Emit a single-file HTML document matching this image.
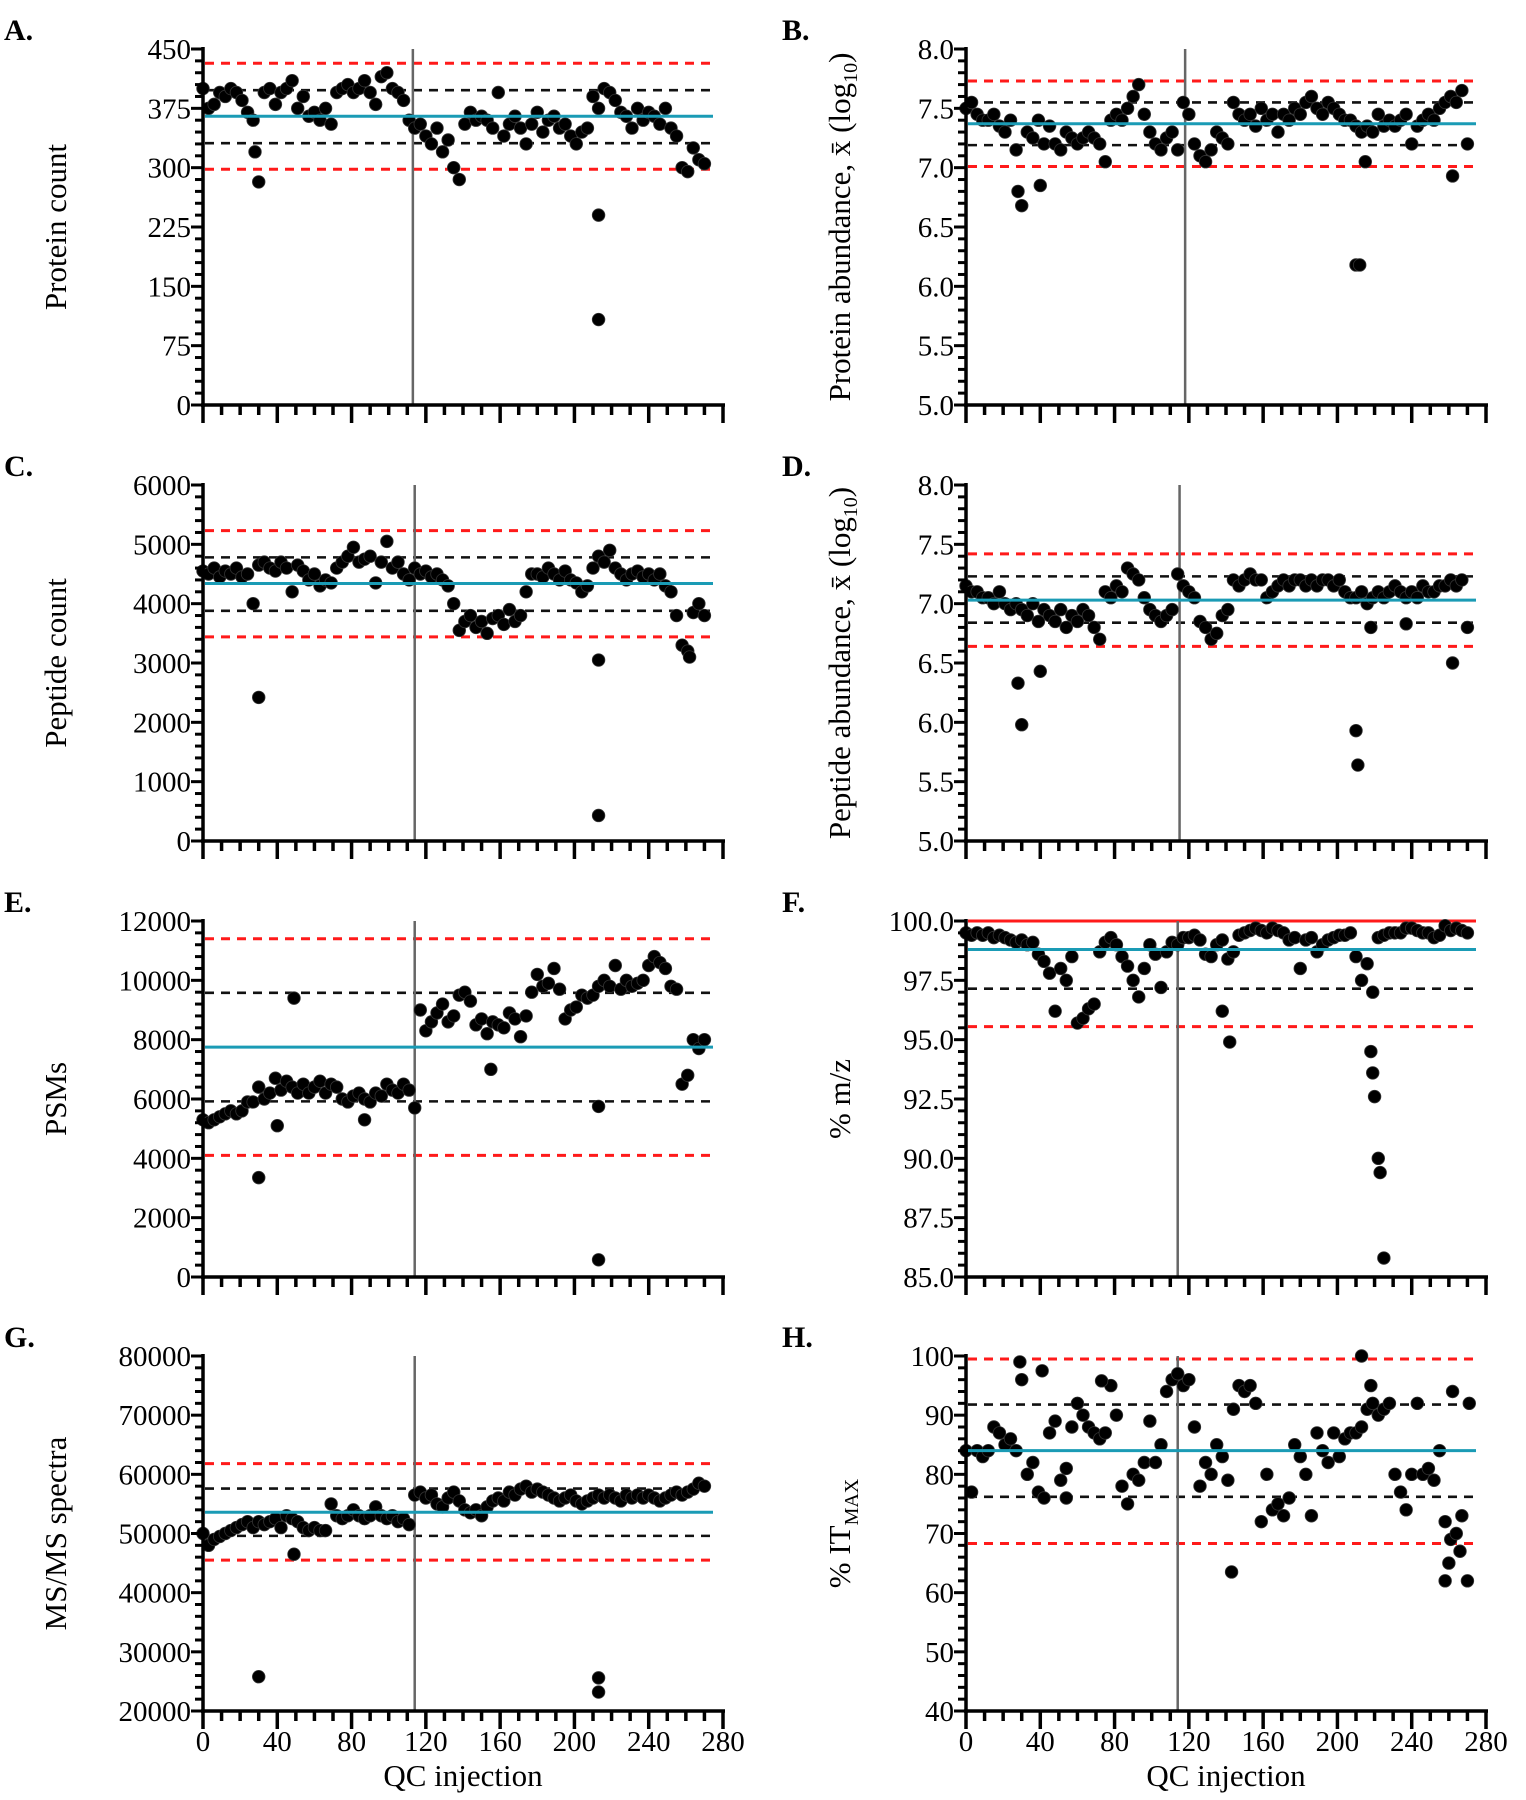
<!DOCTYPE html>
<html><head><meta charset="utf-8"><style>
html,body{margin:0;padding:0;background:#fff;}
svg{display:block;font-family:"Liberation Serif","DejaVu Serif",serif;}
</style></head><body>
<svg id="fig" width="1526" height="1800" viewBox="0 0 1526 1800" xmlns="http://www.w3.org/2000/svg"></svg>
<script>
// ---- data (injection index = position*3) ----
const dataA = [400,375,380,395,390,400,395,385,370,360, 282,395,400,380,395,400,410,375,390,365, 370,360,375,355,395,400,405,395,400,410, 395,380,415,420,400,395,385,360,350,355, 340,330,350,320,335,300,285,355,370,360, 365,360,350,395,340,355,365,350,330,355, 370,345,360,365,350,355,340,330,345,350, 390,375,400,395,385,370,365,350,375,360, 370,365,355,375,350,340,300,295,325,310, 305];
const outA = [[28,320],[213,240],[213,108]];
const dataB = [7.5,7.55,7.45,7.4,7.4,7.45,7.35,7.3,7.4,7.15, 6.68,7.3,7.25,7.4,7.2,7.35,7.2,7.15,7.3,7.25, 7.2,7.25,7.3,7.25,7.2,7.05,7.4,7.45,7.4,7.5, 7.6,7.7,7.45,7.3,7.2,7.15,7.25,7.3,7.15,7.55, 7.45,7.2,7.1,7.05,7.15,7.3,7.25,7.2,7.55,7.45, 7.4,7.45,7.35,7.5,7.4,7.45,7.3,7.45,7.4,7.5, 7.45,7.55,7.6,7.5,7.45,7.55,7.5,7.45,7.4,7.4, 7.35,7.3,7.35,7.3,7.45,7.35,7.4,7.35,7.4,7.45, 7.2,7.35,7.4,7.45,7.4,7.5,7.55,7.6,7.55,7.65, 7.2];
const outB = [[28,6.8],[40,6.85],[210,6.18],[212,6.18],[215,7.05],[262,6.93]];
const dataC = [4550,4500,4600,4450,4550,4500,4600,4450,4500,4000, 4650,4700,4600,4550,4700,4600,4200,4650,4550,4400, 4500,4300,4400,4350,4600,4700,4800,4950,4700,4750, 4800,4350,4700,5050,4600,4700,4500,4400,4600,4500, 4550,4450,4500,4400,4300,4000,3550,3700,3800,3600, 3700,3500,3750,3800,3650,3900,3700,3800,4200,4500, 4500,4450,4600,4500,4400,4550,4400,4350,4200,4300, 4600,4800,4700,4900,4600,4500,4400,4500,4550,4450, 4500,4400,4500,4300,4200,3800,3300,3200,3850,4000, 3800];
const outC = [[30,2420],[213,3050],[213,430],[262,3100]];
const dataD = [7.15,7.1,7.1,7.05,7.05,7.0,7.1,7.0,6.95,7.0, 6.95,6.9,7.0,6.85,6.95,6.9,6.85,6.95,6.8,6.9, 6.85,6.95,6.9,6.8,6.7,7.1,7.05,7.15,7.1,7.3, 7.25,7.2,7.05,6.95,6.9,6.85,6.9,6.95,7.25,7.15, 7.1,7.05,6.85,6.8,6.7,6.75,6.9,6.95,7.2,7.15, 7.2,7.25,7.2,7.2,7.05,7.1,7.15,7.2,7.15,7.2, 7.2,7.15,7.2,7.15,7.2,7.2,7.15,7.2,7.1,7.05, 7.05,7.1,7.0,7.05,7.1,7.05,7.1,7.15,7.1,7.05, 7.1,7.05,7.15,7.1,7.1,7.15,7.15,7.2,7.15,7.2, 6.8];
const outD = [[28,6.33],[30,5.98],[40,6.43],[210,5.93],[211,5.64],[218,6.8],[237,6.83],[262,6.5]];
const dataE = [5300,5200,5300,5400,5500,5600,5500,5600,5900,5900, 6400,6000,6200,6700,6300,6600,6400,6200,6500,6200, 6400,6600,6200,6500,6400,6000,5900,6100,6200,6000, 5900,6200,6100,6500,6300,6200,6500,6300,5700,9000, 8300,8600,8900,9200,8600,8800,9500,9600,9300,8500, 8700,8200,8600,8500,8400,8900,8700,8100,8800,9600, 10200,9800,9900,10400,9700,8700,9000,9100,9500,9400, 9500,9800,10000,9800,10500,9700,10000,9800,9900,10000, 10500,10800,10600,10400,9800,9700,6500,6800,8000,7700, 8000];
const outE = [[30,3350],[49,9400],[40,5100],[87,5300],[155,7000],[213,5750],[213,580]];
const dataF = [99.5,99.4,99.5,99.4,99.5,99.3,99.4,99.3,99.2,99.1, 99.2,99.0,99.1,98.6,98.3,97.8,96.2,98.0,97.5,98.5, 95.7,95.9,96.3,96.5,98.7,99.1,99.3,99.0,98.5,98.1, 97.5,96.8,98.0,99.0,98.6,97.2,98.7,99.1,99.0,99.3, 99.3,99.4,99.2,98.6,98.5,99.0,99.2,98.4,98.7,99.4, 99.5,99.6,99.7,99.6,99.5,99.7,99.6,99.5,99.2,99.3, 98.0,99.2,99.3,98.7,99.0,99.2,99.3,99.4,99.4,99.5, 98.5,97.5,98.2,97.0,99.3,99.4,99.5,99.5,99.5,99.7, 99.7,99.6,99.5,99.5,99.3,99.4,99.8,99.6,99.7,99.6, 99.5];
const outF = [[138,96.2],[142,94.9],[218,94.5],[219,93.6],[220,92.6],[222,90.0],[223,89.4],[225,85.8]];
const dataG = [50000,48000,49000,49500,50000,50500,51000,51500,52000,51000, 52000,51500,52000,52500,51000,53000,52500,52000,51000,50500, 51000,50500,50500,55000,53000,52500,53000,54000,53000,52500, 53000,54500,53000,52500,53000,52000,52500,51500,56500,57000, 56000,56500,55000,54500,56000,57000,55500,54000,53500,54000, 53000,54500,55500,56000,55500,57000,56500,57500,58000,57000, 57500,57000,56500,56000,55500,56000,56500,55500,55000,55500, 56000,56500,56000,56500,56000,55500,56500,56000,56500,56000, 56500,56000,55500,56000,56500,57000,56500,57000,57500,58500, 58000];
const outG = [[30,25800],[49,46500],[213,25600],[213,23200]];
const dataH = [84,77,84,83,84,88,87,85,86,84, 96,80,82,77,76,87,89,79,76,88, 92,90,88,87,86,87,95,90,78,75, 80,79,82,89,82,85,94,96,97,95, 96,88,78,82,80,85,83,79,91,95, 94,95,92,72,80,74,75,73,76,85, 83,80,73,87,84,82,87,83,86,87, 87,88,91,92,90,91,92,80,77,74, 80,92,80,81,79,84,72,69,70,73, 62];
const outH = [[29,99],[41,97.5],[54,81],[73,95.8],[143,63.5],[213,100],[218,95],[258,62],[260,65],[262,94],[266,67],[271,92]];
const xTicks = [0,40,80,120,160,200,240,280];
const ticksA = [0,75,150,225,300,375,450];
const ticksB = [5.0,5.5,6.0,6.5,7.0,7.5,8.0];
const ticksC = [0,1000,2000,3000,4000,5000,6000];
const ticksE = [0,2000,4000,6000,8000,10000,12000];
const ticksF = [85.0,87.5,90.0,92.5,95.0,97.5,100.0];
const ticksG = [20000,30000,40000,50000,60000,70000,80000];
const ticksH = [40,50,60,70,80,90,100];
// reference lines: [mean, blackLo, blackHi, redLo, redHi]
const refA = [365,331,398,298,432];
const refB = [7.37,7.19,7.55,7.01,7.73];
const refC = [4340,3880,4780,3440,5230];
const refD = [7.03,6.84,7.23,6.64,7.42];
const refE = [7750,5920,9580,4100,11400];
const refF = [98.8,97.15,null,95.55,100];
const refG = [53600,49600,57600,45500,61800];
const refH = [84,76.2,91.8,68.3,99.5];
const stepX = 3;

const NS="http://www.w3.org/2000/svg";
const svg=document.getElementById('fig');
function mk(tag,attrs,parent){const e=document.createElementNS(NS,tag);for(const k in attrs)e.setAttribute(k,attrs[k]);(parent||svg).appendChild(e);return e;}

const panels=[
 {id:'a',L:'A.',lx:4,ly:40,x0:203,y0:49,y1:405,t:ticksA,d:dataA,o:outA,r:refA,vx:113,fmt:v=>String(v),lab:['Protein count']},
 {id:'b',L:'B.',lx:782,ly:40,x0:966,y0:49,y1:405,t:ticksB,d:dataB,o:outB,r:refB,vx:118,fmt:v=>v.toFixed(1),lab:'abund-protein'},
 {id:'c',L:'C.',lx:4,ly:476,x0:203,y0:485,y1:841,t:ticksC,d:dataC,o:outC,r:refC,vx:114,fmt:v=>String(v),lab:['Peptide count']},
 {id:'d',L:'D.',lx:782,ly:476,x0:966,y0:485,y1:841,t:ticksB,d:dataD,o:outD,r:refD,vx:115,fmt:v=>v.toFixed(1),lab:'abund-peptide'},
 {id:'e',L:'E.',lx:4,ly:912,x0:203,y0:921,y1:1277,t:ticksE,d:dataE,o:outE,r:refE,vx:114,fmt:v=>String(v),lab:['PSMs']},
 {id:'f',L:'F.',lx:782,ly:912,x0:966,y0:921,y1:1277,t:ticksF,d:dataF,o:outF,r:refF,vx:114,fmt:v=>v.toFixed(1),lab:['% m/z']},
 {id:'g',L:'G.',lx:4,ly:1347,x0:203,y0:1356,y1:1711,t:ticksG,d:dataG,o:outG,r:refG,vx:114,fmt:v=>String(v),lab:['MS/MS spectra'],xl:true},
 {id:'h',L:'H.',lx:782,ly:1347,x0:966,y0:1356,y1:1711,t:ticksH,d:dataH,o:outH,r:refH,vx:114,fmt:v=>String(v),lab:'itmax',xl:true}
];

panels.forEach(p=>{
 const g=mk('g',{});
 
 
 const W=520, lo=p.t[0], hi=p.t[p.t.length-1];
 const sx=v=>p.x0+v/280*W;
 const sy=v=>p.y1-(v-lo)/(hi-lo)*(p.y1-p.y0);
 const xEnd=p.x0+W;
 const L=mk('text',{x:p.lx,y:p.ly,'font-size':30,'font-weight':'bold'},g);L.textContent=p.L;
 
 
 const r=p.r;
 const drawH=(v,col,dash,w,nm)=>{if(v==null)return;const l=mk('line',{x1:p.x0+2,x2:xEnd-10,y1:sy(v),y2:sy(v),stroke:col,'stroke-width':w,'stroke-dasharray':dash||'none'},g);
  
  };
 drawH(r[3],'#ff1a1a','9,7',3,'lower-control-limit');
 if(p.id==='f'){drawH(r[4],'#ff1a1a',null,3,'upper-control-limit');} else drawH(r[4],'#ff1a1a','9,7',3,'upper-control-limit');
 drawH(r[1],'#111','9,7',2.6,'lower-warning-limit');
 drawH(r[2],'#111','9,7',2.6,'upper-warning-limit');
 const vl=mk('line',{x1:sx(p.vx),x2:sx(p.vx),y1:p.y0,y2:p.y1,stroke:'#666','stroke-width':2.5},g);
 
 
 const pts=mk('g',{fill:'#000',stroke:'#333','stroke-width':0.8},g);
 
 
 p.d.forEach((v,i)=>{const c=mk('circle',{cx:sx(i*stepX),cy:sy(v),r:6.3},pts);
  
  });
 p.o.forEach(o=>{const c=mk('circle',{cx:sx(o[0]),cy:sy(o[1]),r:6.3},pts);
  
  });
 const m=mk('line',{x1:p.x0+2,x2:xEnd-10,y1:sy(r[0]),y2:sy(r[0]),stroke:'#1a9bb5','stroke-width':3},g);
 
 
 const ax=mk('g',{stroke:'#000','stroke-width':3.5},g);
 
 
 mk('line',{x1:p.x0,x2:p.x0,y1:p.y0-2,y2:p.y1+2},ax);
 mk('line',{x1:p.x0-2,x2:xEnd+2,y1:p.y1,y2:p.y1},ax);
 const yStep=(p.t[1]-p.t[0])/5;
 for(let k=0;k<=(p.t.length-1)*5;k++){const v=lo+k*yStep;const major=k%5===0;
  mk('line',{x1:p.x0-(major?12:8),x2:p.x0,y1:sy(v),y2:sy(v),'stroke-width':3},ax);}
 p.t.forEach(v=>{const t=mk('text',{x:p.x0-12,y:sy(v)+10,'text-anchor':'end','font-size':29,fill:'#000'},g);t.textContent=p.fmt(v);
  
  });
 for(let v=0;v<=280;v+=10){const major=v%40===0;mk('line',{x1:sx(v),x2:sx(v),y1:p.y1,y2:p.y1+(major?18:10)},ax);}
 if(p.xl){
  xTicks.forEach(v=>{const t=mk('text',{x:sx(v),y:p.y1+40,'text-anchor':'middle','font-size':29},g);t.textContent=v;
   
   });
  const xt=mk('text',{x:sx(140),y:p.y1+75,'text-anchor':'middle','font-size':31},g);xt.textContent='QC injection';
  
  
 }
 const cx=p.x0-(p.x0===203?137:116), cy=(p.y0+p.y1)/2;
 const yl=mk('text',{x:0,y:0,'text-anchor':'middle','font-size':31,transform:`translate(${cx},${cy}) rotate(-90)`},g);
 
 
 if(Array.isArray(p.lab)){yl.textContent=p.lab[0];}
 else if(p.lab==='itmax'){yl.innerHTML='% IT<tspan font-size="20" dy="8">MAX</tspan>';}
 else{const w=p.lab==='abund-protein'?'Protein':'Peptide';yl.innerHTML=w+' abundance, x̄ (log<tspan font-size="20" dy="7">10</tspan><tspan dy="-7">)</tspan>';}
});
</script>
</body></html>
